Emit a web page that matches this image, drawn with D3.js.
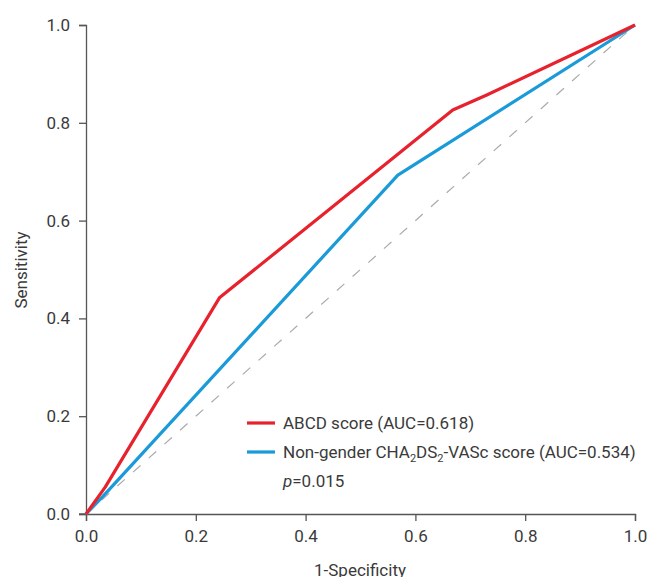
<!DOCTYPE html>
<html>
<head>
<meta charset="utf-8">
<script src="https://cdn.jsdelivr.net/npm/d3@7"></script>
<style>
  body{margin:0;background:#fff;}
  text{font-family:"Liberation Sans Narrow","Roboto",sans-serif;fill:#3a3a3a;}
</style>
</head>
<body>
<svg id="chart" width="647" height="577"></svg>
<script>
// ROC points
const abcdFpr = [0, 0.035, 0.243, 0.668, 0.73, 1];
const abcdTpr = [0, 0.055, 0.442, 0.826, 0.857, 1];
const cha2Fpr = [0, 0.03, 0.568, 1];
const cha2Tpr = [0, 0.035, 0.693, 1];
const ticks = [0, 0.2, 0.4, 0.6, 0.8, 1];

const svg = d3.select('#chart');
const x = d3.scaleLinear().domain([0,1]).range([86,635]);
const y = d3.scaleLinear().domain([0,1]).range([514,25]);

const xAxis = svg.append('g').attr('transform','translate(0,514)')
  .call(d3.axisBottom(x).tickValues(ticks).tickFormat(d3.format('.1f')).tickSizeOuter(0).tickSize(7).tickPadding(9));
const yAxis = svg.append('g').attr('transform','translate(86,0)')
  .call(d3.axisLeft(y).tickValues(ticks).tickFormat(d3.format('.1f')).tickSizeOuter(0).tickSize(7).tickPadding(9));
[xAxis,yAxis].forEach(g=>{
  g.selectAll('path,line').attr('stroke','#555').attr('stroke-width',1.3);
  g.selectAll('text').attr('font-size',17).style('fill','#3a3a3a');
});
// extend x-axis line a bit left like reference
svg.append('line').attr('x1',79).attr('x2',86).attr('y1',514).attr('y2',514).attr('stroke','#555').attr('stroke-width',1.3);

const line = d3.line().x(d=>x(d[0])).y(d=>y(d[1]));

svg.append('path').datum([[0,0],[1,1]]).attr('d',line)
  .attr('fill','none').attr('stroke','#aaa').attr('stroke-width',1.2).attr('stroke-dasharray','10,11');

svg.append('path').datum(d3.zip(cha2Fpr,cha2Tpr)).attr('d',line)
  .attr('fill','none').attr('stroke','#1a9ad8').attr('stroke-width',3.2).attr('stroke-linejoin','round');
svg.append('path').datum(d3.zip(abcdFpr,abcdTpr)).attr('d',line)
  .attr('fill','none').attr('stroke','#e8222d').attr('stroke-width',3.2).attr('stroke-linejoin','round');

// axis titles
svg.append('text').attr('transform','translate(27,270) rotate(-90)').attr('text-anchor','middle')
  .attr('font-size',17).text('Sensitivity');
svg.append('text').attr('x',360).attr('y',576).attr('text-anchor','middle')
  .attr('font-size',17).text('1-Specificity');

// legend
const lg = svg.append('g');
lg.append('line').attr('x1',247).attr('x2',275).attr('y1',423).attr('y2',423).attr('stroke','#e8222d').attr('stroke-width',3.2);
lg.append('line').attr('x1',247).attr('x2',275).attr('y1',452).attr('y2',452).attr('stroke','#1a9ad8').attr('stroke-width',3.2);
lg.append('text').attr('x',283).attr('y',429).attr('font-size',17).text('ABCD score (AUC=0.618)');
const t2 = lg.append('text').attr('x',283).attr('y',458).attr('font-size',17);
t2.append('tspan').text('Non-gender CHA');
t2.append('tspan').attr('font-size',11).attr('dy',4).text('2');
t2.append('tspan').attr('dy',-4).text('DS');
t2.append('tspan').attr('font-size',11).attr('dy',4).text('2');
t2.append('tspan').attr('dy',-4).text('-VASc score (AUC=0.534)');
const t3 = lg.append('text').attr('x',283).attr('y',487).attr('font-size',17);
t3.append('tspan').attr('font-style','italic').text('p');
t3.append('tspan').text('=0.015');
</script>
</body>
</html>
